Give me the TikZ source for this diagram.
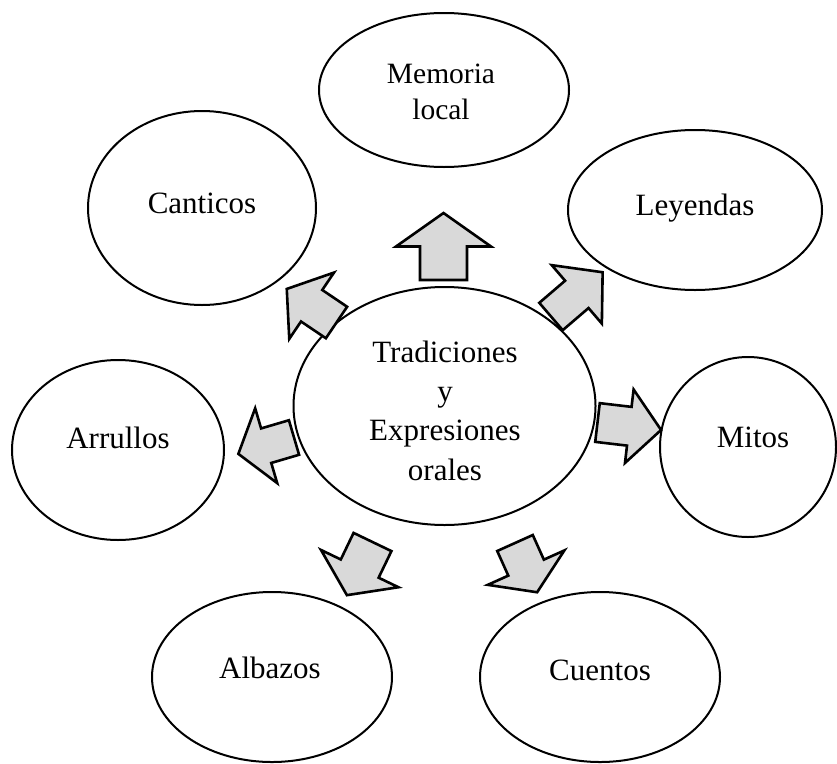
\documentclass[tikz,border=0pt]{standalone}
\usepackage{fontspec}
\setmainfont{Liberation Serif}
\usetikzlibrary{shapes.geometric}
\definecolor{arrowfill}{HTML}{D9D9D9}
\tikzset{
  bubble/.style={ellipse, draw=black, line width=2pt, inner sep=0pt},
  lbl/.style={font=\fontsize{31}{39}\selectfont, align=center, anchor=base, inner sep=0pt},
  blockarrow/.style={draw=black, fill=arrowfill, line width=2.6pt, line join=miter},
}
% x y angle length headhalf shafthalf
\newcommand\blockarr[6]{%
  \draw[blockarrow, shift={(#1,#2)}, rotate=#3] (0,-#6) -- ({#4*0.5},-#6) -- ({#4*0.5},-#5) -- (#4,0) -- ({#4*0.5},#5) -- ({#4*0.5},#6) -- (0,#6) -- cycle;}
\begin{document}
\begin{tikzpicture}[x=1pt,y=-1pt]
\useasboundingbox (0,0) rectangle (837,763);
\node[bubble, minimum width=250pt, minimum height=154pt] (memoria) at (444,90) {};
\node[bubble, minimum width=228pt, minimum height=194pt] (canticos) at (202,208) {};
\node[bubble, minimum width=254pt, minimum height=160pt] (leyendas) at (695,210) {};
\node[bubble, minimum width=302pt, minimum height=238pt] (central) at (444.5,406) {};
\node[bubble, minimum width=212pt, minimum height=180pt] (arrullos) at (118,450) {};
\node[bubble, minimum width=176pt, minimum height=180pt] (mitos) at (748,447) {};
\node[bubble, minimum width=240pt, minimum height=170pt] (albazos) at (272,677) {};
\node[bubble, minimum width=240pt, minimum height=170pt] (cuentos) at (600,677) {};

\blockarr{443.5}{280}{90}{67}{47.5}{23.5}
\blockarr{336.5}{322.5}{146}{60}{40}{19}
\blockarr{551}{316.5}{40.6}{68}{38.5}{18}
\blockarr{597.5}{422.5}{-6.7}{64}{37}{19.5}
\blockarr{294}{437.5}{196.4}{58}{39}{18}
\blockarr{372.5}{542}{244.3}{59}{43}{21}
\blockarr{515}{543}{-65.8}{54}{42}{19.5}

\node[lbl, font=\fontsize{29.5}{36}\selectfont] (t-mem) at (441,119) {Memoria\\local};
\node[lbl] (t-can) at (202,213) {Canticos};
\node[lbl] (t-ley) at (695,215) {Leyendas};
\node[lbl, font=\fontsize{31}{39.3}\selectfont] (t-cen) at (445,480) {Tradiciones\\y\\Expresiones\\orales};
\node[lbl] (t-arr) at (118,448) {Arrullos};
\node[lbl] (t-mit) at (753,447) {Mitos};
\node[lbl] (t-alb) at (270,678) {Albazos};
\node[lbl] (t-cue) at (600,680) {Cuentos};
\end{tikzpicture}
\end{document}
